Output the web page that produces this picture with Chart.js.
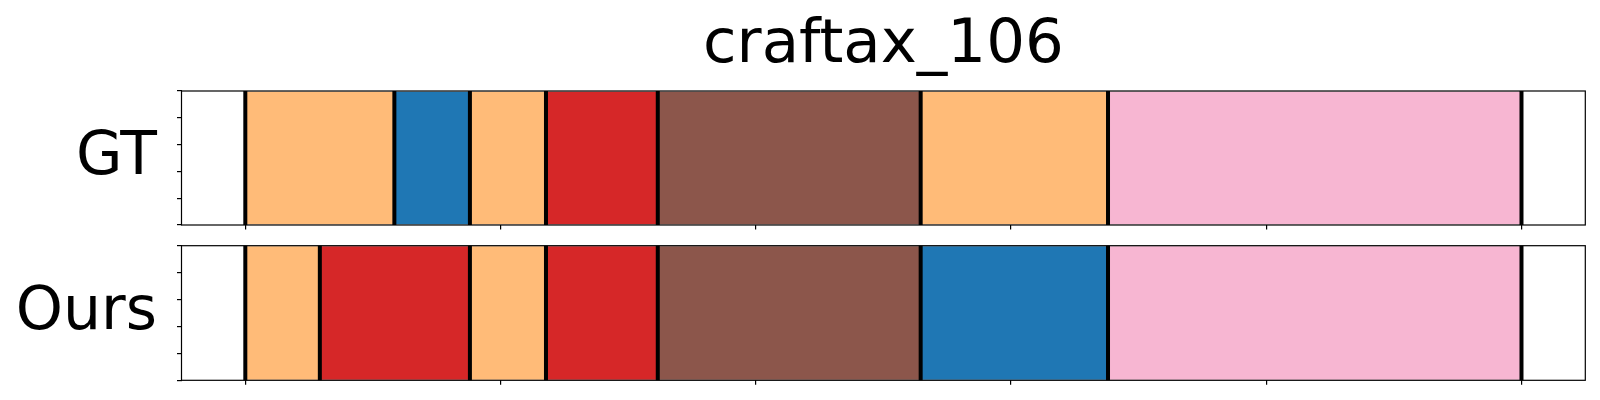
<!DOCTYPE html>
<html>
<head>
<meta charset="utf-8">
<script src="https://cdn.jsdelivr.net/npm/chart.js@4.4.1/dist/chart.umd.min.js"></script>
<style>
  html, body { margin: 0; padding: 0; background: #fff; overflow: hidden; }
  #wrap { position: relative; width: 1600px; height: 400px; }
  canvas { position: absolute; left: 0; }
</style>
</head>
<body>
<div id="wrap">
  <canvas id="gt" width="1600" height="232" style="top:0"></canvas>
  <canvas id="ours" width="1600" height="168" style="top:232px"></canvas>
</div>
<script>
// Segmentation of one episode: boundaries (frame index) and the class of each segment.
const chartTitle = 'craftax_106';
const rowLabels = ['GT', 'Ours'];
const gtBounds = [0, 29.2, 44, 58.9, 80.8, 132.3, 169, 250];
const gtClasses = [3, 0, 3, 6, 10, 3, 13];
const oursBounds = [0, 14.6, 44, 58.9, 80.8, 132.3, 169, 250];
const oursClasses = [3, 6, 3, 6, 10, 0, 13];
const xTicks = [0, 50, 100, 150, 200, 250];
const yTicks = [0, 0.25, 0.5, 0.75, 1];
const xRange = [-12.5, 262.5];

// tab20 palette, indexed by class id
const tab20 = {
    0: '#1f77b4', 3: '#ffbb78', 6: '#d62728', 10: '#8c564b', 13: '#f7b6d2'
};

Chart.defaults.font.family = '"DejaVu Sans", sans-serif';
Chart.defaults.color = '#000';

const tickGrid = { drawOnChartArea: false, drawTicks: true, tickLength: 4.5, color: '#000', lineWidth: 1.2 };

function makePanel(canvasId, label, bounds, classes, pad, withTitle) {
    const datasets = classes.map((c, i) => ({
        data: [[bounds[i], bounds[i + 1]]],
        backgroundColor: tab20[c],
        borderColor: 'rgba(0,0,0,0.12)',
        borderWidth: 1,
        borderSkipped: false,
        grouped: false,
        barPercentage: 1,
        categoryPercentage: 1,
        xAxisID: 'x',
        yAxisID: 'y'
    }));

    // thick black separators at every segment boundary
    const boundaryLines = {
        id: 'boundaryLines',
        afterDatasetsDraw(chart) {
            const { ctx, chartArea } = chart;
            const xs = chart.scales.x;
            ctx.save();
            ctx.strokeStyle = '#000';
            ctx.lineWidth = 4;
            for (const b of bounds) {
                const x = xs.getPixelForValue(b);
                ctx.beginPath();
                ctx.moveTo(x, chartArea.top);
                ctx.lineTo(x, chartArea.bottom);
                ctx.stroke();
            }
            ctx.restore();
        }
    };

    // matplotlib-like box frame plus the figure title
    const frame = {
        id: 'frame',
        afterDraw(chart) {
            const { ctx, chartArea: a } = chart;
            ctx.save();
            ctx.strokeStyle = '#000';
            ctx.lineWidth = 1.2;
            ctx.strokeRect(a.left, a.top, a.right - a.left, a.bottom - a.top);
            if (withTitle) {
                ctx.fillStyle = '#000';
                ctx.font = '61px "DejaVu Sans"';
                ctx.textAlign = 'center';
                ctx.textBaseline = 'alphabetic';
                ctx.fillText(chartTitle, (a.left + a.right) / 2, 62);
            }
            ctx.restore();
        }
    };

    return new Chart(document.getElementById(canvasId), {
        type: 'bar',
        data: { labels: [label], datasets },
        options: {
            indexAxis: 'y',
            responsive: false,
            maintainAspectRatio: false,
            animation: false,
            devicePixelRatio: 1,
            layout: { padding: pad },
            plugins: { legend: { display: false }, tooltip: { enabled: false }, title: { display: false } },
            scales: {
                x: {
                    type: 'linear', min: xRange[0], max: xRange[1], bounds: 'data',
                    afterBuildTicks: s => { s.ticks = xTicks.map(v => ({ value: v })); },
                    ticks: { display: false },
                    grid: tickGrid,
                    border: { display: false }
                },
                y: {
                    type: 'category', position: 'left', weight: 1, offset: true,
                    grid: { display: false, drawTicks: false },
                    border: { display: false },
                    ticks: { padding: 20, color: '#000', font: { size: 60 } },
                    afterFit: s => { s.width = 177; s.paddingTop = 0; s.paddingBottom = 0; }
                },
                yt: {
                    type: 'linear', axis: 'y', position: 'left', weight: 0, min: 0, max: 1, bounds: 'data',
                    afterBuildTicks: s => { s.ticks = yTicks.map(v => ({ value: v })); },
                    ticks: { display: false, stepSize: 0.25 },
                    grid: tickGrid,
                    border: { display: false }
                }
            }
        },
        plugins: [boundaryLines, frame]
    });
}

makePanel('gt', rowLabels[0], gtBounds, gtClasses, { top: 91, right: 14.7, bottom: 2.5, left: 0 }, true);
makePanel('ours', rowLabels[1], oursBounds, oursClasses, { top: 13.7, right: 14.7, bottom: 15.2, left: 0 }, false);
</script>
</body>
</html>
